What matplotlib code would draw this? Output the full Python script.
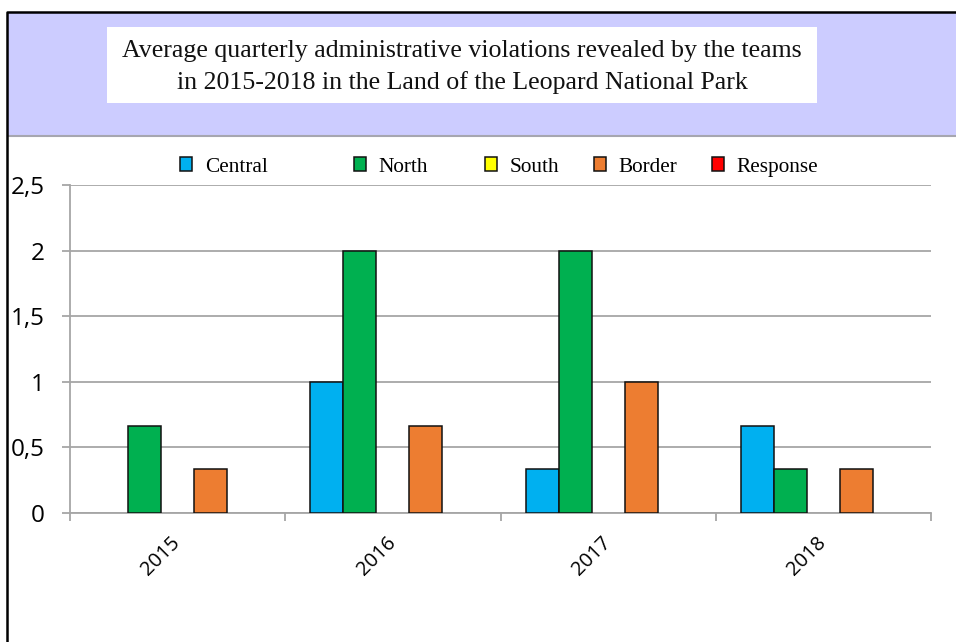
import matplotlib
matplotlib.use("Agg")
import matplotlib.pyplot as plt
import matplotlib.patches as mpatches
from matplotlib.lines import Line2D
import matplotlib.transforms as mtransforms
import numpy as np

years = ["2015", "2016", "2017", "2018"]
series_names = ["Central", "North", "South", "Border", "Response"]
central = [0, 1, 1/3, 2/3]
north = [2/3, 2, 2, 1/3]
south = [0, 0, 0, 0]
border = [1/3, 2/3, 1, 1/3]
response = [0, 0, 0, 0]
colors = ["#00B0F0", "#00B050", "#FFFF00", "#ED7D31", "#FF0000"]
ytick_vals = [0, 0.5, 1, 1.5, 2, 2.5]
ytick_labels = ["0", "0,5", "1", "1,5", "2", "2,5"]
title_lines = ["Average quarterly administrative violations revealed by the teams",
               "in 2015-2018 in the Land of the Leopard National Park"]

W, H = 956, 642
fig = plt.figure(figsize=(W/100, H/100), dpi=100)
fig.patch.set_facecolor("white")

def fx(px):
    return px / W

def fy(py):
    return 1 - py / H

# header band
fig.patches.append(mpatches.Rectangle((fx(8), fy(136)), fx(W - 8), (136 - 13) / H,
                                      transform=fig.transFigure, facecolor="#CCCCFF",
                                      edgecolor="none", zorder=0))
fig.lines.append(Line2D([fx(8), 1], [fy(136), fy(136)], transform=fig.transFigure,
                        color="#A6A6B0", lw=1.5, zorder=1))
# title box
fig.patches.append(mpatches.Rectangle((fx(107), fy(103)), fx(817 - 107), (103 - 27) / H,
                                      transform=fig.transFigure, facecolor="white",
                                      edgecolor="none", zorder=1))
fig.text(fx(462), fy(51), title_lines[0], ha="center", va="center",
         family="Liberation Serif", fontsize=18.6, color="#111111", zorder=2)
fig.text(fx(462), fy(83), title_lines[1], ha="center", va="center",
         family="Liberation Serif", fontsize=18.6, color="#111111", zorder=2)
# black frame
fig.lines.append(Line2D([fx(7), fx(7), 1], [0, fy(12), fy(12)], transform=fig.transFigure,
                        color="black", lw=1.8, zorder=3))

ax = fig.add_axes([fx(70), fy(513), fx(931 - 70), (513 - 185) / H])
ax.set_facecolor("white")
x = np.arange(len(years))
bw = 0.1535
all_series = [central, north, south, border, response]
handles = []
for i, (name, vals, c) in enumerate(zip(series_names, all_series, colors)):
    b = ax.bar(x + (i - 2) * bw, vals, width=bw, color=c, edgecolor="#111111",
               linewidth=1.1, label=name, zorder=3)
    for p, v in zip(b.patches, vals):
        if v == 0:
            p.set_visible(False)
    handles.append(mpatches.Patch(facecolor=c, edgecolor="#111111", linewidth=1.1))

ax.set_xlim(-0.5, len(years) - 0.5)
ax.set_ylim(0, 2.5)
ax.set_yticks(ytick_vals)
ax.set_yticklabels(ytick_labels, family="Open Sans", fontsize=17.5, color="black")
ax.yaxis.grid(True, color="#A6A6A6", lw=1.3, zorder=0)
ax.tick_params(axis="y", length=6, width=1.3, color="#A6A6A6", pad=12)

ax.set_xticks(np.arange(-0.5, len(years), 1.0))
ax.set_xticklabels([])
ax.tick_params(axis="x", which="major", length=6, width=1.3, color="#A6A6A6")
ax.set_xticks(x, minor=True)
ax.set_xticklabels(years, minor=True, rotation=45, ha="right",
                   family="Open Sans", fontsize=14.5, color="black")
ax.tick_params(axis="x", which="minor", length=0, pad=14)
offset = mtransforms.ScaledTranslation(7/100, 0, fig.dpi_scale_trans)
for lab in ax.get_xticklabels(minor=True):
    lab.set_transform(lab.get_transform() + offset)

for side in ["top", "right"]:
    ax.spines[side].set_visible(False)
for side in ["left", "bottom"]:
    ax.spines[side].set_color("#A6A6A6")
    ax.spines[side].set_linewidth(1.3)

# legend entries, one per series
legend_x = [180, 354, 485, 594, 712]
for h, name, lx in zip(handles, series_names, legend_x):
    fig.legend(handles=[h], labels=[name], loc="center left",
               bbox_to_anchor=(fx(lx), fy(167)), frameon=False,
               prop={"family": "Liberation Serif", "size": 15.3},
               handlelength=0.57, handleheight=0.57, handletextpad=0.6,
               borderpad=0, borderaxespad=0)

fig.savefig("out.png", dpi=100)
